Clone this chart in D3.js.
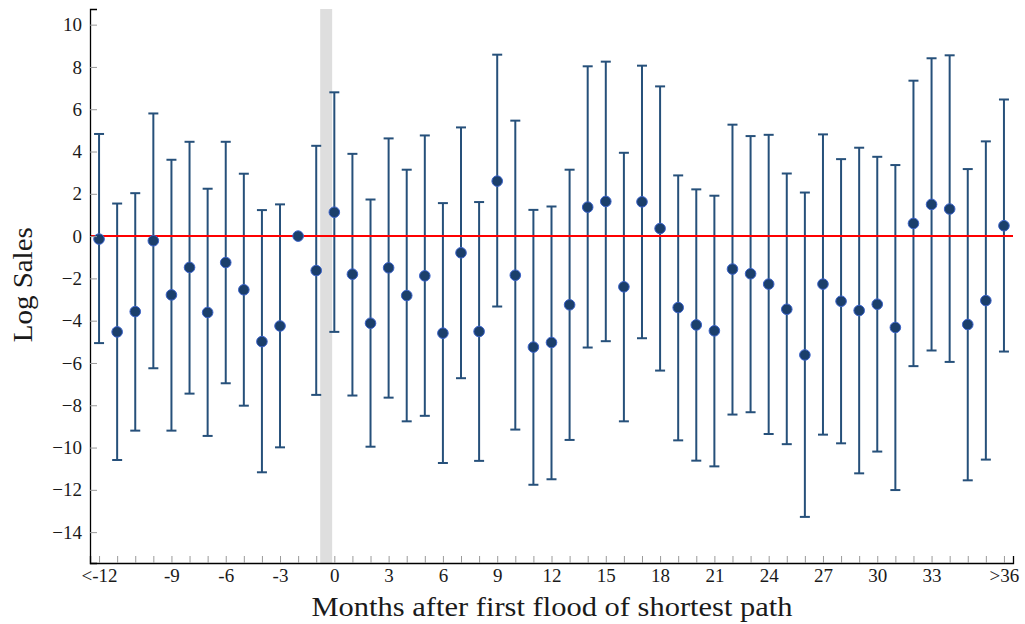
<!DOCTYPE html>
<html>
<head>
<meta charset="utf-8">
<script src="https://cdn.jsdelivr.net/npm/d3@7"></script>
<style>
  html, body { margin: 0; padding: 0; background: #fff; }
  svg { display: block; }
  text { font-family: "Liberation Serif", "DejaVu Serif", serif; fill: #1a1a1a; }
  .tick text { font-size: 19px; }
</style>
</head>
<body>
<svg id="chart" width="1025" height="624"></svg>
<script>
// Months relative to the first flood; -13 stands for "<-12", 37 for ">36"
const months = d3.range(-13, 38);

// Point estimates (log sales) per month
const estimates = [
  -0.14, -4.53, -3.57, -0.22, -2.78, -1.48, -3.61, -1.25, -2.54, -4.99,
  -4.25, 0.00, -1.63, 1.13, -1.80, -4.12, -1.50, -2.81, -1.88, -4.59,
  -0.79, -4.51, 2.60, -1.85, -5.25, -5.03, -3.25, 1.37, 1.64, -2.40,
  1.62, 0.36, -3.38, -4.20, -4.48, -1.56, -1.78, -2.27, -3.46, -5.62,
  -2.27, -3.08, -3.52, -3.22, -4.32, 0.60, 1.50, 1.28, -4.18, -3.05,
  0.49
];

// Upper bounds of the confidence intervals
const upper = [
  4.83, 1.54, 2.03, 5.80, 3.61, 4.46, 2.24, 4.46, 2.95, 1.23,
  1.50, null, 4.27, 6.80, 3.89, 1.73, 4.62, 3.14, 4.76, 1.56,
  5.14, 1.61, 8.58, 5.46, 1.24, 1.40, 3.14, 8.03, 8.25, 3.94,
  8.06, 7.08, 2.87, 2.21, 1.91, 5.27, 4.73, 4.79, 2.96, 2.06,
  4.81, 3.64, 4.18, 3.75, 3.36, 7.35, 8.41, 8.55, 3.17, 4.48,
  6.46
];

// Lower bounds of the confidence intervals
const lower = [
  -5.06, -10.59, -9.20, -6.25, -9.20, -7.45, -9.45, -6.96, -8.02, -11.17,
  -9.99, null, -7.51, -4.53, -7.54, -9.96, -7.64, -8.76, -8.50, -10.73,
  -6.72, -10.63, -3.33, -9.15, -11.76, -11.50, -9.64, -5.27, -4.97, -8.76,
  -4.83, -6.36, -9.66, -10.62, -10.89, -8.44, -8.33, -9.36, -9.84, -13.28,
  -9.39, -9.80, -11.22, -10.19, -12.01, -6.15, -5.41, -5.95, -11.55, -10.57,
  -5.46
];

// Labelled x positions and their text
const xTickValues = [-13, -9, -6, -3, 0, 3, 6, 9, 12, 15, 18, 21, 24, 27, 30, 33, 37];
const xTickLabels = ["<-12", "-9", "-6", "-3", "0", "3", "6", "9", "12", "15", "18", "21", "24", "27", "30", "33", ">36"];
const yTickValues = [-14, -12, -10, -8, -6, -4, -2, 0, 2, 4, 6, 8, 10];

// Reference period shading (month -1 to the flood)
const shadeSpan = [-0.78, -0.12];

const data = months.map((m, i) => ({ m, est: estimates[i], hi: upper[i], lo: lower[i] }));

const svg = d3.select("#chart");
const margin = { left: 90, right: 12, top: 9, bottom: 61 };
const W = 1025, H = 624;

const x = d3.scaleLinear().domain([-13.5, 37.5]).range([margin.left, W - margin.right]);
const y = d3.scaleLinear().domain([-15.46, 10.74]).range([H - margin.bottom, margin.top]);

const barColor = "#26507a";
const dotFill = "#1b3f6b";
const dotStroke = "#3a62c9";

// shaded band
svg.append("rect")
  .attr("x", x(shadeSpan[0]))
  .attr("y", y(10.74))
  .attr("width", x(shadeSpan[1]) - x(shadeSpan[0]))
  .attr("height", y(-15.46) - y(10.74))
  .attr("fill", "#dedede");

// error bars
const eb = svg.append("g").attr("class", "errorbars")
  .selectAll("g").data(data.filter(d => d.hi !== null)).join("g");
eb.append("line")
  .attr("x1", d => x(d.m)).attr("x2", d => x(d.m))
  .attr("y1", d => y(d.hi)).attr("y2", d => y(d.lo))
  .attr("stroke", barColor).attr("stroke-width", 2);
eb.append("line")
  .attr("x1", d => x(d.m) - 5).attr("x2", d => x(d.m) + 5)
  .attr("y1", d => y(d.hi)).attr("y2", d => y(d.hi))
  .attr("stroke", barColor).attr("stroke-width", 2);
eb.append("line")
  .attr("x1", d => x(d.m) - 5).attr("x2", d => x(d.m) + 5)
  .attr("y1", d => y(d.lo)).attr("y2", d => y(d.lo))
  .attr("stroke", barColor).attr("stroke-width", 2);

// zero line
svg.append("line")
  .attr("x1", x(-13.5)).attr("x2", x(37.5))
  .attr("y1", y(0)).attr("y2", y(0))
  .attr("stroke", "#ff0000").attr("stroke-width", 2);

// point estimates
svg.append("g").selectAll("circle").data(data).join("circle")
  .attr("cx", d => x(d.m)).attr("cy", d => y(d.est))
  .attr("r", 5.3)
  .attr("fill", dotFill)
  .attr("stroke", dotStroke).attr("stroke-width", 1);

// y axis
const yAxis = d3.axisLeft(y).tickValues(yTickValues)
  .tickFormat(d => d < 0 ? "\u2212" + Math.abs(d) : String(d))
  .tickSize(-7).tickPadding(8);
const gy = svg.append("g").attr("transform", `translate(${margin.left},0)`).call(yAxis);
gy.attr("font-family", null).attr("font-size", null);
gy.select(".domain").attr("stroke", "#000").attr("stroke-width", 1.3);
gy.selectAll(".tick line").attr("stroke", "#9a9a9a").attr("stroke-width", 1);
gy.selectAll(".tick text").attr("fill", "#1a1a1a");

// x axis: minor ticks every month, labels at selected months
const gxMinor = svg.append("g").attr("transform", `translate(0,${H - margin.bottom})`)
  .call(d3.axisBottom(x).tickValues(months).tickFormat("").tickSize(-7));
gxMinor.select(".domain").attr("stroke", "#000").attr("stroke-width", 1.3);
gxMinor.selectAll(".tick line").attr("stroke", "#9a9a9a").attr("stroke-width", 1);

const gx = svg.append("g").attr("transform", `translate(0,${H - margin.bottom})`)
  .call(d3.axisBottom(x).tickValues(xTickValues)
    .tickFormat((d, i) => xTickLabels[i]).tickSize(0).tickPadding(6));
gx.attr("font-family", null).attr("font-size", null);
gx.select(".domain").remove();
gx.selectAll(".tick text").attr("fill", "#1a1a1a");

// axis titles
svg.append("text")
  .attr("x", 552)
  .attr("y", 616)
  .attr("text-anchor", "middle")
  .style("font-size", "28px")
  .attr("textLength", 481)
  .attr("lengthAdjust", "spacingAndGlyphs")
  .text("Months after first flood of shortest path");

svg.append("text")
  .attr("transform", `translate(32,${y(-2.3)}) rotate(-90)`)
  .attr("text-anchor", "middle")
  .style("font-size", "28px")
  .attr("textLength", 115)
  .attr("lengthAdjust", "spacingAndGlyphs")
  .text("Log Sales");
</script>
</body>
</html>
